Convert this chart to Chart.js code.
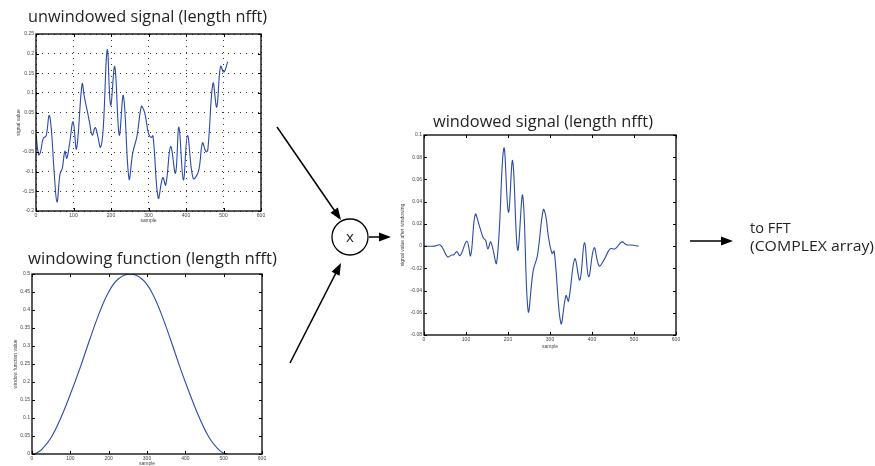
<!DOCTYPE html>
<html>
<head>
<meta charset="utf-8">
<script src="https://cdn.jsdelivr.net/npm/chart.js@4.4.1/dist/chart.umd.min.js"></script>
<style>
  body { margin: 0; width: 875px; height: 466px; position: relative; overflow: hidden; background: #fff; }
  canvas { position: absolute; }
  svg { position: absolute; left: 0; top: 0; }
  .ttl { font-family: 'Open Sans', sans-serif; font-size: 16px; fill: #231f20; }
</style>
</head>
<body>
<canvas id="rawChart" width="254" height="196" style="left:16px;top:28px"></canvas>
<canvas id="windowChart" width="257" height="199" style="left:13px;top:268px"></canvas>
<canvas id="windowedChart" width="285" height="222" style="left:400px;top:128px"></canvas>
<svg id="overlay" width="875" height="466">
  <text class="ttl" x="28" y="22" textLength="239" lengthAdjust="spacingAndGlyphs">unwindowed signal (length nfft)</text>
  <text class="ttl" x="28" y="264" textLength="249" lengthAdjust="spacingAndGlyphs">windowing function (length nfft)</text>
  <text class="ttl" x="433" y="127" textLength="220" lengthAdjust="spacingAndGlyphs">windowed signal (length nfft)</text>
  <circle cx="350" cy="237" r="18" fill="none" stroke="#000" stroke-width="1.3"></circle>
  <text class="ttl" x="350" y="242" text-anchor="middle" style="font-size:15px">x</text>
  <text class="ttl" x="750" y="233" style="font-size:14.5px">to FFT</text>
  <text class="ttl" x="750" y="251" textLength="124" lengthAdjust="spacingAndGlyphs" style="font-size:14.5px">(COMPLEX array)</text>
</svg>
<script>
// unwindowed signal
const RAW_SAMPLES = [0, 7, 12, 19, 27, 35, 41, 48, 56, 64, 70, 77, 82, 89, 99, 108, 123, 129, 138, 143,
  150, 158, 165, 172, 179, 190, 199, 210, 222, 233, 248, 258, 269, 281, 287, 292, 300, 307, 312, 326,
  338, 346, 359, 372, 381, 393, 404, 419, 433, 444, 453, 458, 472, 482, 492, 501, 511];
const RAW_VALUES = [-0.005, -0.057, -0.05, -0.016, -0.009, 0.043, 0.006, -0.095, -0.177, -0.106, -0.092,
  -0.048, -0.066, -0.032, 0.027, -0.042, 0.123, 0.09, 0.048, 0.024, -0.007, 0.012, -0.011, -0.038, 0.006,
  0.21, 0.069, 0.167, -0.007, 0.093, -0.118, -0.052, -0.011, 0.066, 0.058, 0.04, -0.003, -0.013, -0.009,
  -0.167, -0.115, -0.134, -0.036, -0.104, 0.013, -0.121, -0.008, -0.117, -0.1, -0.027, -0.049, -0.046,
  0.125, 0.064, 0.168, 0.153, 0.179];

// windowing function, bottom-left plot
const WIN_SAMPLES = [0, 12, 25, 50, 75, 100, 125, 150, 175, 200, 225, 256, 287, 312, 337, 362, 387, 412,
  437, 462, 487, 499, 511];
const WIN_VALUES = [0, 0.003, 0.012, 0.046, 0.1, 0.166, 0.238, 0.316, 0.39, 0.45, 0.486, 0.5, 0.486, 0.45,
  0.39, 0.316, 0.238, 0.166, 0.1, 0.046, 0.012, 0.003, 0];

// windowed signal, middle plot
const WSIG_SAMPLES = [0, 26, 37, 44, 56, 66, 71, 78, 86, 102, 111, 122, 132, 141, 147, 152, 159, 173, 190,
  201, 211, 223, 235, 248, 260, 270, 284, 290, 296, 305, 310, 326, 338, 344, 359, 371, 382, 392, 405, 417,
  429, 443, 455, 471, 482, 493, 511];
const WSIG_VALUES = [0, 0, 0.0012, -0.0015, -0.0096, -0.008, -0.0078, -0.005, -0.0085, 0.0045, -0.0085,
  0.0285, 0.018, 0.0075, 0.005, -0.0025, 0.0037, -0.015, 0.088, 0.0305, 0.0768, -0.0035, 0.0455, -0.0585,
  -0.022, -0.0085, 0.0328, 0.027, 0.009, -0.0066, -0.0045, -0.0695, -0.0445, -0.0495, -0.0115, -0.0305,
  0.003, -0.0275, -0.0015, -0.0178, -0.012, -0.0025, -0.0025, 0.0038, 0.0012, 0.001, 0];

const X_RANGE = [0, 600, 100];
const RAW_Y_RANGE = [-0.2, 0.25, 0.05];
const WIN_Y_RANGE = [0, 0.5, 0.05];
const WSIG_Y_RANGE = [-0.08, 0.1, 0.02];

const LINE_COLOR = '#2c4aa8';
const TICK_FONT = { family: "'Liberation Sans', Arial, sans-serif", size: 5 };

// MATLAB style box with inward ticks on all four sides
const boxTicks = {
  id: 'boxTicks',
  afterDraw(chart) {
    const { ctx, chartArea: a, scales: { x, y } } = chart;
    ctx.save();
    ctx.strokeStyle = '#000';
    ctx.lineWidth = 1;
    ctx.beginPath();
    x.ticks.forEach((t) => {
      const px = Math.round(x.getPixelForValue(t.value)) + 0.5;
      ctx.moveTo(px, a.bottom); ctx.lineTo(px, a.bottom - 3);
      ctx.moveTo(px, a.top); ctx.lineTo(px, a.top + 3);
    });
    y.ticks.forEach((t) => {
      const py = Math.round(y.getPixelForValue(t.value)) + 0.5;
      ctx.moveTo(a.left, py); ctx.lineTo(a.left + 3, py);
      ctx.moveTo(a.right, py); ctx.lineTo(a.right - 3, py);
    });
    ctx.stroke();
    ctx.lineWidth = 1.3;
    ctx.strokeRect(a.left, a.top, a.right - a.left, a.bottom - a.top);
    ctx.restore();
  },
};

function fmt(v) {
  return String(Number(v.toFixed(3)));
}

function makeChart(id, samples, values, yRange, yTitle, box) {
  const points = samples.map((s, i) => ({ x: s, y: values[i] }));
  const gridOn = box.grid;
  return new Chart(document.getElementById(id), {
    type: 'line',
    data: {
      datasets: [{
        data: points,
        borderColor: LINE_COLOR,
        borderWidth: 1.1,
        pointRadius: 0,
        tension: 0.4,
        fill: false,
      }],
    },
    options: {
      responsive: false,
      animation: false,
      layout: { padding: { top: box.top, right: box.right, left: 0, bottom: 0 } },
      plugins: { legend: { display: false }, tooltip: { enabled: false } },
      scales: {
        x: {
          type: 'linear',
          min: X_RANGE[0], max: X_RANGE[1],
          ticks: { stepSize: X_RANGE[2], font: TICK_FONT, color: '#444', padding: 2, maxRotation: 0, callback: fmt },
          grid: { display: gridOn, color: '#000', lineWidth: 0.8, drawTicks: false },
          border: { display: false, dash: [1, 5] },
          title: { display: true, text: 'sample', font: TICK_FONT, color: '#444', padding: 0 },
          afterFit: (s) => { s.height = box.xh; },
        },
        y: {
          type: 'linear',
          min: yRange[0], max: yRange[1],
          ticks: { stepSize: yRange[2], font: TICK_FONT, color: '#444', padding: 2, callback: fmt },
          grid: { display: gridOn, color: '#000', lineWidth: 0.8, drawTicks: false },
          border: { display: false, dash: [1, 5] },
          title: { display: true, text: yTitle, font: TICK_FONT, color: '#444', padding: 0 },
          afterFit: (s) => { s.width = box.yw; },
        },
      },
    },
    plugins: [boxTicks],
  });
}

function arrow(x1, y1, x2, y2) {
  const svg = document.getElementById('overlay');
  const ns = 'http://www.w3.org/2000/svg';
  const dx = x2 - x1, dy = y2 - y1;
  const len = Math.hypot(dx, dy);
  const ux = dx / len, uy = dy / len;
  const hl = 12, hw = 4.5;
  const bx = x2 - ux * hl, by = y2 - uy * hl;
  const line = document.createElementNS(ns, 'line');
  line.setAttribute('x1', x1); line.setAttribute('y1', y1);
  line.setAttribute('x2', bx + ux * 2); line.setAttribute('y2', by + uy * 2);
  line.setAttribute('stroke', '#000'); line.setAttribute('stroke-width', '1.5');
  svg.appendChild(line);
  const head = document.createElementNS(ns, 'polygon');
  head.setAttribute('points', `${x2},${y2} ${bx - uy * hw},${by + ux * hw} ${bx + uy * hw},${by - ux * hw}`);
  head.setAttribute('fill', '#000');
  svg.appendChild(head);
}

makeChart('rawChart', RAW_SAMPLES, RAW_VALUES, RAW_Y_RANGE, 'signal value',
  { top: 6, right: 9, yw: 20, xh: 13, grid: true });
makeChart('windowChart', WIN_SAMPLES, WIN_VALUES, WIN_Y_RANGE, 'window function value',
  { top: 6, right: 8, yw: 19, xh: 13, grid: false });
makeChart('windowedChart', WSIG_SAMPLES, WSIG_VALUES, WSIG_Y_RANGE, 'signal value after windowing',
  { top: 7, right: 9, yw: 24, xh: 15, grid: false });

arrow(277, 127, 341, 220);
arrow(290, 363, 341, 263);
arrow(369, 237, 391, 237);
arrow(690, 241, 733, 241);
</script>
</body>
</html>
